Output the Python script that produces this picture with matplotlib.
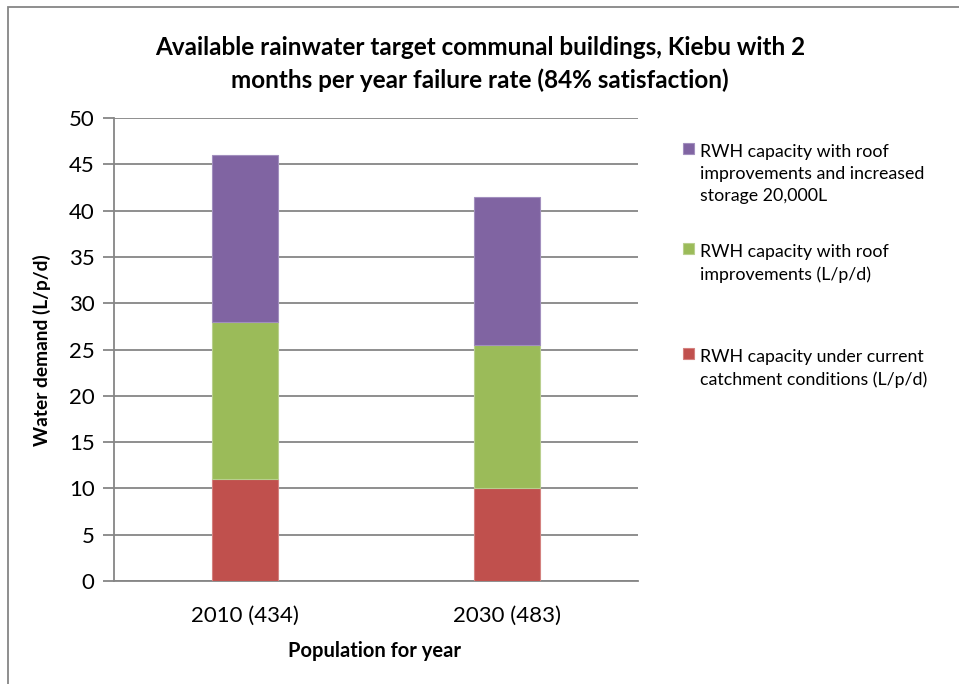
import matplotlib
matplotlib.use("Agg")
import matplotlib.pyplot as plt
from matplotlib.patches import Rectangle

plt.rcParams['font.family'] = ['Lato', 'DejaVu Sans']

categories = ["2010 (434)", "2030 (483)"]
current_catchment = [11, 10]
roof_improvements = [17, 15.5]
roof_and_storage = [18, 16]

series_labels = [
    "RWH capacity under current\ncatchment conditions (L/p/d)",
    "RWH capacity with roof\nimprovements (L/p/d)",
    "RWH capacity with roof\nimprovements and increased\nstorage 20,000L",
]
colors = ["#C0504D", "#9BBB59", "#8064A2"]
edge_colors = ["#D4817F", "#B9CF8E", "#A28FBE"]

title = ("Available rainwater target communal buildings, Kiebu with 2\n"
         "months per year failure rate (84% satisfaction)")

fig = plt.figure(figsize=(9.59, 6.84), dpi=100)
W, H = 959, 684

# outer chart frame
fig.add_artist(Rectangle((8 / W, -0.01), 1.0, 1 - 7 / H + 0.01, transform=fig.transFigure,
                         fill=False, edgecolor="#868686", linewidth=1.3))

ax = fig.add_axes([114 / W, 1 - 581 / H, (638 - 114) / W, (581 - 118) / H])

x = list(range(len(categories)))
bottom = [0] * len(categories)
for vals, col, ec in zip([current_catchment, roof_improvements, roof_and_storage], colors, edge_colors):
    ax.bar(x, vals, width=0.25, bottom=bottom, color=col, edgecolor=ec, linewidth=0.8, zorder=3)
    bottom = [b + v for b, v in zip(bottom, vals)]

ax.set_xlim(-0.5, 1.5)
ax.set_ylim(0, 50)
ax.set_yticks(range(0, 51, 5))
ax.yaxis.grid(True, color="#868686", linewidth=1.3, zorder=0)
ax.set_axisbelow(True)
ax.set_xticks(x)
ax.set_xticklabels(categories)
ax.tick_params(axis="x", length=0, labelsize=16, pad=18)
ax.tick_params(axis="y", length=8, width=1.3, color="#868686", labelsize=16, pad=6)
for s in ["top", "right"]:
    ax.spines[s].set_visible(False)
for s in ["left", "bottom"]:
    ax.spines[s].set_color("#868686")
    ax.spines[s].set_linewidth(1.3)

fig.text(480 / W, 1 - 64 / H, title, ha="center", va="center", fontsize=17.5,
         fontweight="bold", linespacing=1.45)
fig.text(42 / W, 1 - 350 / H, "Water demand (L/p/d)", rotation=90, ha="center", va="center",
         fontsize=13.8, fontweight="bold")
fig.text(375 / W, 1 - 651 / H, "Population for year", ha="center", va="center",
         fontsize=14.5, fontweight="bold")

# legend: square marker aligned with the first line of each label
legend_y = [148, 248, 353]
for label, col, ec, yy in zip(series_labels[::-1], colors[::-1], edge_colors[::-1], legend_y):
    fig.add_artist(Rectangle((683 / W, 1 - (yy + 5.5) / H), 11 / W, 11 / H,
                             transform=fig.transFigure, facecolor=col, edgecolor=ec,
                             linewidth=0.8))
    fig.text(700 / W, 1 - (yy - 4) / H, label, ha="left", va="top", fontsize=12.8,
             linespacing=1.47)

fig.savefig("out.png", dpi=100)
